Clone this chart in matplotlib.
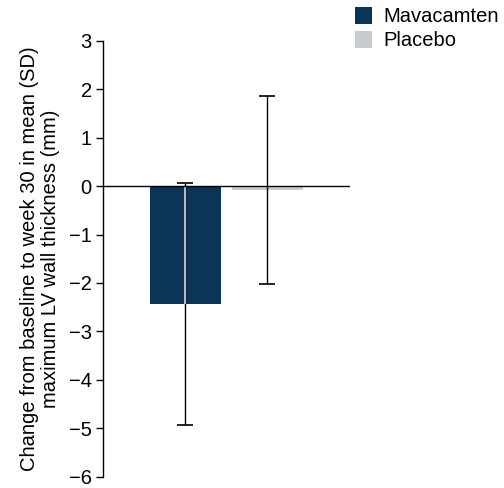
import matplotlib
matplotlib.use('Agg')
import matplotlib.pyplot as plt
from matplotlib.patches import Patch

plt.rcParams['font.family'] = ['Liberation Sans', 'DejaVu Sans']

groups = ['Mavacamten', 'Placebo']
means = [-2.43, -0.08]
sds = [2.5, 1.95]
colors = ['#0c3456', '#c9cccf']
yticks = [3, 2, 1, 0, -1, -2, -3, -4, -5, -6]
ylabel = 'Change from baseline to week 30 in mean (SD)\nmaximum LV wall thickness (mm)'

fig = plt.figure(figsize=(5.04, 4.88), dpi=100)
ax = fig.add_axes([0.204, 0.0235, 0.49, 0.8925])

x = [1, 2]
ax.bar(x, means, width=0.86, color=colors, zorder=2)
ax.errorbar(x, means, yerr=sds, fmt='none', ecolor='black', elinewidth=1,
            capsize=6, capthick=1.2, zorder=3)
# error line shows light where it crosses the dark bar
ax.vlines(x[0], means[0], 0, color='#b9c0c8', lw=1.4, zorder=4)
ax.axhline(0, color='black', lw=1, zorder=5)

ax.set_xlim(0, 3)
ax.set_ylim(-6, 3)
ax.set_yticks(yticks)
ax.set_xticks([])
for s in ['top', 'right', 'bottom']:
    ax.spines[s].set_visible(False)
ax.spines['left'].set_linewidth(1)
ax.tick_params(axis='y', labelsize=14.5, length=5, width=1, pad=3)
ax.set_ylabel(ylabel, fontsize=14.5, labelpad=6, linespacing=1.15)

handles = [Patch(facecolor=c, edgecolor='none') for c in colors]
fig.legend(handles, groups, loc='upper left', bbox_to_anchor=(0.68, 1.01),
           frameon=False, fontsize=14.5, handlelength=0.87, handleheight=0.87,
           handletextpad=0.55, labelspacing=0.25, borderaxespad=0.2)

fig.savefig('out.png', dpi=100)
